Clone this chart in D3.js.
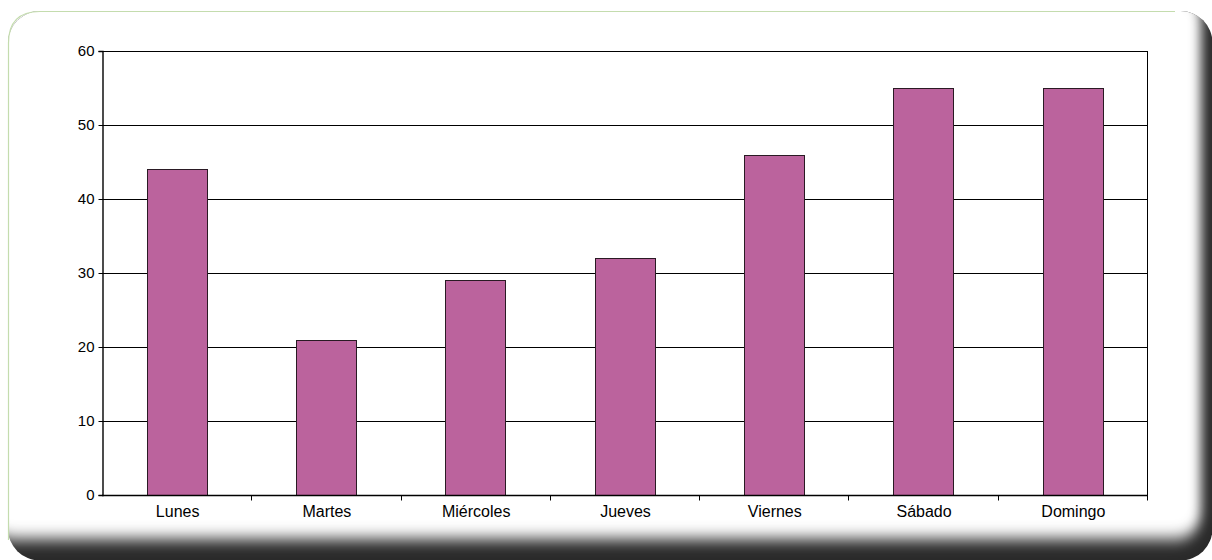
<!DOCTYPE html>
<html>
<head>
<meta charset="utf-8">
<script src="https://cdn.jsdelivr.net/npm/d3@7"></script>
<style>
  html, body { margin: 0; padding: 0; background: #ffffff; }
  svg { display: block; }
  text { font-family: "Liberation Sans", Arial, sans-serif; fill: #000; }
</style>
</head>
<body>
<svg id="chart" width="1212" height="560"></svg>
<script>
// Visits per weekday
const days = ["Lunes", "Martes", "Miércoles", "Jueves", "Viernes", "Sábado", "Domingo"];
const visits = [44, 21, 29, 32, 46, 55, 55];
const yTicks = [0, 10, 20, 30, 40, 50, 60];

const svg = d3.select("#chart");
const W = 1212, H = 560;

// ---- rounded card with a soft bevelled shadow on the lower/right edges ----
const defs = svg.append("defs");
const card = { x: 8, y: 11, r: 32 };
defs.append("clipPath").attr("id", "cardClip")
  .append("rect")
  .attr("x", card.x).attr("y", card.y)
  .attr("width", W - card.x + 0.5).attr("height", H - card.y + 0.5)
  .attr("rx", card.r).attr("ry", card.r);
defs.append("filter").attr("id", "soft")
  .attr("x", "-5%").attr("y", "-5%").attr("width", "110%").attr("height", "110%")
  .append("feGaussianBlur").attr("stdDeviation", "6 8");

const cardG = svg.append("g").attr("clip-path", "url(#cardClip)");
cardG.append("rect")
  .attr("x", card.x).attr("y", card.y)
  .attr("width", W - card.x).attr("height", H - card.y)
  .attr("fill", "#2a2a2a");
cardG.append("rect")
  .attr("x", card.x - 20).attr("y", card.y - 20)
  .attr("width", 1201 - card.x + 20).attr("height", 539 - card.y + 20)
  .attr("rx", 26).attr("ry", 26)
  .attr("fill", "#ffffff")
  .attr("filter", "url(#soft)");
// light green rim on the top and left
svg.append("path")
  .attr("d", `M${card.x + 0.5},540 L${card.x + 0.5},${card.y + card.r} ` +
             `Q${card.x + 0.5},${card.y + 0.5} ${card.x + card.r},${card.y + 0.5} L1175,${card.y + 0.5}`)
  .attr("fill", "none")
  .attr("stroke", "#c4dcae")
  .attr("stroke-width", 1.2);

// ---- plot ----
const plot = { left: 102, right: 1147, top: 51, bottom: 495 };

const x = d3.scaleBand()
  .domain(days)
  .range([plot.left, plot.right])
  .padding(0);

const y = d3.scaleLinear()
  .domain([0, 60])
  .range([plot.bottom, plot.top]);

const g = svg.append("g");

// horizontal gridlines
g.selectAll("line.grid")
  .data(yTicks.filter(d => d > 0))
  .join("line")
  .attr("class", "grid")
  .attr("x1", plot.left).attr("x2", plot.right)
  .attr("y1", d => Math.round(y(d)) + 0.5).attr("y2", d => Math.round(y(d)) + 0.5)
  .attr("stroke", "#000").attr("stroke-width", 1);

// right frame edge
g.append("line")
  .attr("x1", plot.right + 0.5).attr("x2", plot.right + 0.5)
  .attr("y1", plot.top).attr("y2", plot.bottom + 5)
  .attr("stroke", "#000");

// bars
const barW = x.bandwidth() * 0.4;
g.selectAll("rect.bar")
  .data(days.map((d, i) => ({ day: d, v: visits[i] })))
  .join("rect")
  .attr("class", "bar")
  .attr("x", d => Math.round(x(d.day) + (x.bandwidth() - barW) / 2) + 0.5)
  .attr("y", d => Math.round(y(d.v)) + 0.5)
  .attr("width", Math.round(barW))
  .attr("height", d => Math.round(y(0)) - Math.round(y(d.v)))
  .attr("fill", "#bb639d")
  .attr("stroke", "#2a1a24")
  .attr("stroke-width", 1);

// y axis
const yAxis = d3.axisLeft(y).tickValues(yTicks).tickSize(4).tickPadding(4);
const yG = svg.append("g")
  .attr("transform", `translate(${plot.left + 0.5},0)`)
  .call(yAxis);
yG.select(".domain").attr("stroke", "#000").attr("stroke-width", 1.4);
yG.selectAll(".tick line").attr("stroke", "#000");
yG.selectAll(".tick text")
  .style("font-family", "'Liberation Sans', Arial, sans-serif")
  .style("font-size", "15px").attr("fill", "#000");

// x axis with ticks on band boundaries
const xG = svg.append("g")
  .attr("transform", `translate(0,${plot.bottom + 0.5})`);
xG.append("line")
  .attr("x1", plot.left).attr("x2", plot.right + 1)
  .attr("stroke", "#000").attr("stroke-width", 1.4);
const bounds = days.map(d => x(d)).concat([plot.right]);
xG.selectAll("line.tk")
  .data(bounds.slice(1))
  .join("line")
  .attr("class", "tk")
  .attr("x1", d => Math.round(d) + 0.5).attr("x2", d => Math.round(d) + 0.5)
  .attr("y1", 0).attr("y2", 5)
  .attr("stroke", "#000");
xG.selectAll("text")
  .data(days)
  .join("text")
  .attr("x", d => x(d) + x.bandwidth() / 2 + 1)
  .attr("y", 21)
  .attr("text-anchor", "middle")
  .style("font-size", "16px")
  .text(d => d);
</script>
</body>
</html>
